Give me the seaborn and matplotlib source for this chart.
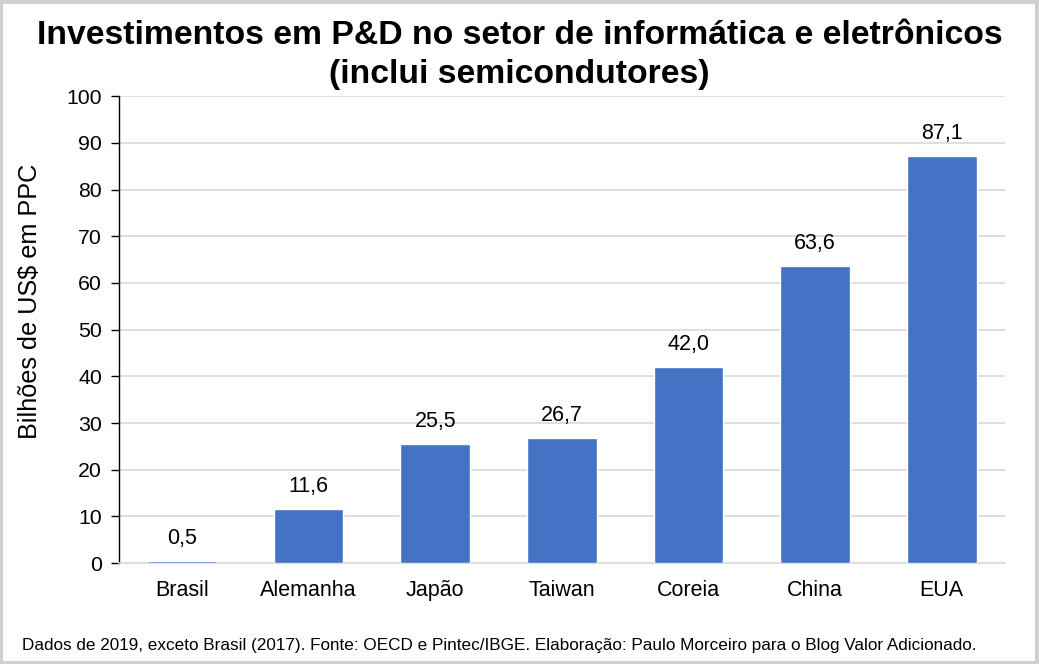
import matplotlib
matplotlib.use("Agg")
import matplotlib.pyplot as plt
import seaborn as sns
import pandas as pd
from matplotlib.patches import Rectangle

paises = ["Brasil", "Alemanha", "Japão", "Taiwan", "Coreia", "China", "EUA"]
valores = [0.5, 11.6, 25.5, 26.7, 42.0, 63.6, 87.1]
yticks = [0, 10, 20, 30, 40, 50, 60, 70, 80, 90, 100]

titulo_l1 = "Investimentos em P&D no setor de informática e eletrônicos"
titulo_l2 = "(inclui semicondutores)"
ylabel = "Bilhões de US$ em PPC"
rodape = "Dados de 2019, exceto Brasil (2017). Fonte: OECD e Pintec/IBGE. Elaboração: Paulo Morceiro para o Blog Valor Adicionado."

sns.set_theme(style="white")
plt.rcParams["font.family"] = ["Liberation Sans", "DejaVu Sans"]
plt.rcParams["text.color"] = "black"
plt.rcParams["xtick.color"] = "black"
plt.rcParams["ytick.color"] = "black"
plt.rcParams["axes.labelcolor"] = "black"

df = pd.DataFrame({"pais": paises, "valor": valores})

fig = plt.figure(figsize=(10.39, 6.64), dpi=100)
ax = fig.add_axes([0.1142, 0.152, 0.8531, 0.703])

ax.yaxis.grid(True, color="#d9d9d9", linewidth=1.2, zorder=0)
ax.set_axisbelow(True)
sns.barplot(data=df, x="pais", y="valor", color="#4472C4", width=0.55,
            saturation=1, ax=ax, zorder=3)

for p, v in zip(ax.patches, valores):
    ax.text(p.get_x() + p.get_width() / 2, v + 2.6, f"{v:.1f}".replace(".", ","),
            ha="center", va="bottom", fontsize=15.5, color="black")

ax.set_ylim(0, 100)
ax.set_yticks(yticks)
ax.set_yticklabels([str(t) for t in yticks], fontsize=15.3)
ax.set_xlim(-0.5, len(paises) - 0.5)
ax.tick_params(axis="x", labelsize=15.5, length=0, pad=12)
ax.tick_params(axis="y", left=True, length=6, width=1, color="black", pad=6)
ax.set_xlabel("")
ax.set_ylabel(ylabel, fontsize=18.2)
ax.yaxis.set_label_coords(-0.087, 0.561)

for s in ["top", "right"]:
    ax.spines[s].set_visible(False)
ax.spines["bottom"].set_color("#d9d9d9")
ax.spines["bottom"].set_linewidth(1.2)
ax.spines["left"].set_color("black")
ax.spines["left"].set_linewidth(1)

fig.text(0.5, 0.946, titulo_l1, ha="center", va="center", fontsize=24.3,
         fontweight="bold")
fig.text(0.5, 0.888, titulo_l2, ha="center", va="center", fontsize=24.3,
         fontweight="bold")
fig.text(0.021, 0.028, rodape, ha="left", va="center", fontsize=12.3)

fig.patches.append(Rectangle((0.001, 0.002), 0.997, 0.995, transform=fig.transFigure,
                             fill=False, edgecolor="#d0d0d0", linewidth=3))

fig.savefig("out.png", dpi=100, facecolor="white")
